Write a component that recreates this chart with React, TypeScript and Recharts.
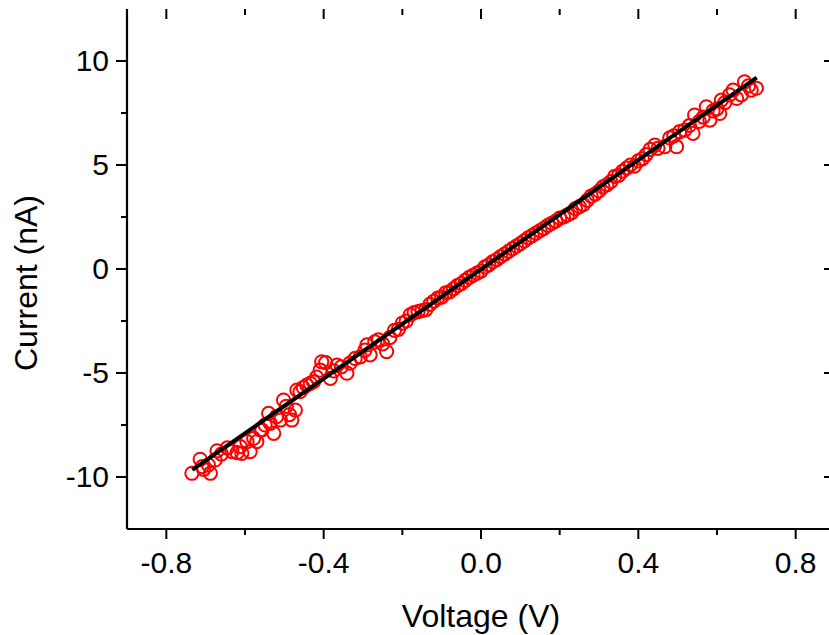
import React from 'react'
import { ScatterChart, Scatter, XAxis, YAxis, Label } from 'recharts'

// measured I-V sweep (V, nA)
const voltage = [
  -0.735, -0.714, -0.709, -0.705, -0.693, -0.688, -0.676, -0.671, -0.66, -0.645,
  -0.633, -0.62, -0.612, -0.608, -0.595, -0.587, -0.578, -0.57, -0.561, -0.557,
  -0.549, -0.54, -0.536, -0.527, -0.52, -0.51, -0.502, -0.495, -0.487, -0.481,
  -0.472, -0.468, -0.46, -0.452, -0.443, -0.434, -0.426, -0.418, -0.409, -0.405,
  -0.395, -0.383, -0.375, -0.366, -0.355, -0.341, -0.333, -0.32, -0.307, -0.295,
  -0.29, -0.282, -0.27, -0.261, -0.25, -0.24, -0.232, -0.22, -0.21, -0.2,
  -0.19, -0.18, -0.17, -0.16, -0.15, -0.14, -0.13, -0.12, -0.11, -0.1,
  -0.09, -0.08, -0.07, -0.06, -0.05, -0.04, -0.03, -0.02, -0.01, 0.0,
  0.01, 0.02, 0.03, 0.04, 0.05, 0.06, 0.07, 0.08, 0.09, 0.1,
  0.11, 0.12, 0.13, 0.14, 0.15, 0.16, 0.17, 0.18, 0.19, 0.2,
  0.21, 0.22, 0.23, 0.24, 0.25, 0.26, 0.27, 0.28, 0.29, 0.3,
  0.31, 0.32, 0.33, 0.34, 0.35, 0.36, 0.37, 0.38, 0.39, 0.4,
  0.41, 0.42, 0.43, 0.442, 0.45, 0.467, 0.48, 0.49, 0.497, 0.505,
  0.518, 0.53, 0.539, 0.543, 0.555, 0.565, 0.573, 0.582, 0.59, 0.6,
  0.607, 0.611, 0.62, 0.632, 0.641, 0.65, 0.662, 0.67, 0.68, 0.687, 0.7,
]
const current = [
  -9.82, -9.15, -9.5, -9.63, -9.42, -9.82, -9.18, -8.74, -8.9, -8.6,
  -8.78, -8.83, -8.54, -8.86, -8.3, -8.78, -8.14, -8.3, -7.74, -7.74,
  -7.5, -6.94, -7.42, -7.9, -7.1, -7.26, -6.3, -6.6, -7.0, -7.26,
  -6.78, -5.82, -5.9, -5.7, -5.58, -5.5, -5.42, -5.2, -4.86, -4.46,
  -4.5, -5.26, -4.9, -4.62, -4.7, -5.01, -4.53, -4.3, -4.22, -3.9,
  -3.65, -4.13, -3.5, -3.41, -3.6, -3.97, -3.3, -2.95, -2.9, -2.6,
  -2.5, -2.2, -2.1, -2.05, -2.0, -1.95, -1.7, -1.55, -1.4, -1.35,
  -1.15, -1.1, -0.95, -0.8, -0.7, -0.55, -0.4, -0.3, -0.2, -0.1,
  0.1, 0.2, 0.35, 0.45, 0.6, 0.72, 0.85, 0.98, 1.1, 1.22,
  1.35, 1.5, 1.6, 1.72, 1.85, 1.95, 2.1, 2.2, 2.3, 2.45,
  2.5, 2.6, 2.7, 2.9, 3.0, 3.1, 3.3, 3.5, 3.6, 3.75,
  3.95, 4.05, 4.2, 4.45, 4.5, 4.7, 4.85, 5.0, 4.95, 5.2,
  5.3, 5.5, 5.75, 5.96, 5.8, 5.88, 6.3, 6.4, 5.88, 6.6,
  6.68, 6.9, 6.52, 7.4, 7.1, 7.3, 7.8, 7.16, 7.6, 7.7,
  7.48, 8.12, 8.0, 8.37, 8.6, 8.2, 8.37, 9.0, 8.8, 8.6, 8.69,
]

// linear fit endpoints
const fitVoltage = [-0.734, 0.701]
const fitCurrent = [-9.66, 9.2]

const xTicks = [-0.8, -0.6, -0.4, -0.2, 0, 0.2, 0.4, 0.6, 0.8]
const xMajor = [-0.8, -0.4, 0, 0.4, 0.8]
const yTicks = [-10, -7.5, -5, -2.5, 0, 2.5, 5, 7.5, 10]
const yMajor = [-10, -5, 0, 5, 10]

const points = voltage.map((v, k) => ({ v, i: current[k] }))
const fit = fitVoltage.map((v, k) => ({ v, i: fitCurrent[k] }))

const FONT = '"Liberation Sans", Arial, sans-serif'
const PLOT_TOP = 9
const PLOT_RIGHT = 835
const isMajor = (val: number, list: number[]) => list.some((m) => Math.abs(m - val) < 1e-6)

// bottom tick (outward) + matching inward tick on the top frame edge
function BottomTick({ x, y, payload }: any) {
  const major = isMajor(payload.value, xMajor)
  const len = major ? 10 : 6
  return (
    <g>
      <line x1={x} x2={x} y1={y} y2={y + len} stroke="#000" strokeWidth={2} />
      <line x1={x} x2={x} y1={PLOT_TOP} y2={PLOT_TOP + len} stroke="#000" strokeWidth={2} />
      {major && (
        <text x={x} y={y + 44} textAnchor="middle" fontSize={30} fontFamily={FONT} fill="#000">
          {payload.value.toFixed(1)}
        </text>
      )}
    </g>
  )
}

// left tick (outward) + matching inward tick on the right frame edge
function LeftTick({ x, y, payload }: any) {
  const major = isMajor(payload.value, yMajor)
  const len = major ? 11 : 6
  return (
    <g>
      <line x1={x} x2={x - len} y1={y} y2={y} stroke="#000" strokeWidth={2} />
      <line x1={PLOT_RIGHT} x2={PLOT_RIGHT - len} y1={y} y2={y} stroke="#000" strokeWidth={2} />
      {major && (
        <text x={x - 18} y={y + 10} textAnchor="end" fontSize={30} fontFamily={FONT} fill="#000">
          {String(payload.value)}
        </text>
      )}
    </g>
  )
}

const circle = (props: any) => (
  <circle cx={props.cx} cy={props.cy} r={6.6} fill="none" stroke="#ff0000" strokeWidth={2} />
)

const axisLine = { stroke: '#000', strokeWidth: 2.2 }

export default function App() {
  return (
    <div style={{ position: 'fixed', left: 0, top: 0, width: 829, height: 635, overflow: 'hidden', background: '#fff' }}>
      <ScatterChart width={840} height={635} margin={{ top: 9, right: 5, bottom: 0, left: 0 }}>
        <XAxis
          xAxisId="bottom"
          type="number"
          dataKey="v"
          domain={[-0.9, 0.9]}
          ticks={xTicks}
          interval={0}
          height={106}
          axisLine={axisLine}
          tickLine={false}
          tickSize={0}
          tickMargin={0}
          tick={<BottomTick />}
        >
          <Label
            content={() => (
              <text x={481} y={627} textAnchor="middle" fontSize={32} fontFamily={FONT} fill="#000">
                Voltage (V)
              </text>
            )}
          />
        </XAxis>
        <XAxis
          xAxisId="top"
          orientation="top"
          type="number"
          dataKey="v"
          domain={[-0.9, 0.9]}
          height={0}
          axisLine={axisLine}
          tickLine={false}
          tick={false}
        />
        <YAxis
          yAxisId="left"
          type="number"
          dataKey="i"
          domain={[-12.5, 12.5]}
          ticks={yTicks}
          interval={0}
          width={127}
          axisLine={axisLine}
          tickLine={false}
          tickSize={0}
          tickMargin={0}
          tick={<LeftTick />}
        >
          <Label
            content={() => (
              <text
                x={37}
                y={283}
                transform="rotate(-90 37 283)"
                textAnchor="middle"
                fontSize={32}
                fontFamily={FONT}
                fill="#000"
              >
                Current (nA)
              </text>
            )}
          />
        </YAxis>
        <YAxis
          yAxisId="right"
          orientation="right"
          type="number"
          dataKey="i"
          domain={[-12.5, 12.5]}
          width={0}
          axisLine={axisLine}
          tickLine={false}
          tick={false}
        />
        <Scatter
          xAxisId="bottom"
          yAxisId="left"
          data={points}
          shape={circle}
          isAnimationActive={false}
        />
        <Scatter
          xAxisId="bottom"
          yAxisId="left"
          data={fit}
          stroke="#000"
          strokeWidth={4}
          line={{ stroke: '#000', strokeWidth: 4 }}
          shape={() => <g />}
          isAnimationActive={false}
        />
      </ScatterChart>
    </div>
  )
}
